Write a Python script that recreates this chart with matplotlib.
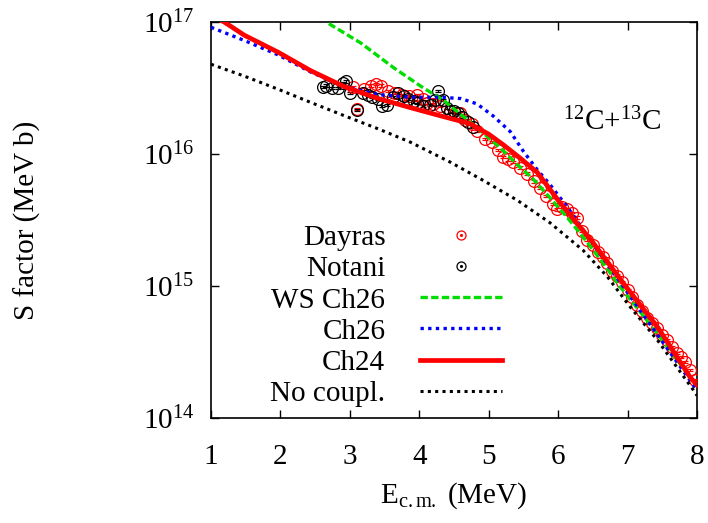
import numpy as np
import matplotlib
matplotlib.use('Agg')
import matplotlib.pyplot as plt
from matplotlib.lines import Line2D
from matplotlib.legend_handler import HandlerTuple
from matplotlib.font_manager import FontProperties

plt.rcParams['font.family'] = 'serif'
plt.rcParams['font.serif'] = ['Liberation Serif', 'DejaVu Serif']
plt.rcParams['mathtext.fontset'] = 'custom'
plt.rcParams['mathtext.rm'] = 'Liberation Serif'
plt.rcParams['mathtext.it'] = 'Liberation Serif:italic'
plt.rcParams['mathtext.bf'] = 'Liberation Serif:bold'
FS = 21
fp = FontProperties(family=['Liberation Serif'], size=FS)

# ---- data (E in MeV, S factor in MeV b) ----
dayras_E = [3.05, 3.10, 3.20, 3.30, 3.38, 3.45, 3.55, 3.65, 3.75, 3.85, 3.97, 4.05,
            4.11, 4.20, 4.30, 4.44, 4.52, 4.59, 4.66, 4.76, 4.83, 4.95, 5.05, 5.14,
            5.21, 5.28, 5.35, 5.45, 5.55, 5.65, 5.74, 5.82, 5.92, 5.99, 6.06, 6.13,
            6.20, 6.27, 6.35, 6.42, 6.50, 6.58, 6.65, 6.71, 6.78, 6.85, 6.92, 7.01,
            7.07, 7.14, 7.21, 7.28, 7.35, 7.43, 7.50, 7.57, 7.64, 7.71, 7.77, 7.83,
            7.90, 7.97]
dayras_S = [3.2e16, 2.2e16, 3.1e16, 3.3e16, 3.4e16, 3.3e16, 3.0e16, 2.9e16, 2.8e16,
            2.75e16, 2.8e16, 2.6e16, 2.45e16, 2.4e16, 2.3e16, 2.1e16, 2.05e16, 2.05e16,
            1.8e16, 1.7e16, 1.5e16, 1.3e16, 1.23e16, 1.07e16, 9.5e15, 9.1e15, 8.7e15,
            7.9e15, 7.1e15, 6.2e15, 5.5e15, 4.8e15, 4.2e15, 3.8e15, 4.0e15, 3.8e15,
            3.55e15, 3.3e15, 2.6e15, 2.25e15, 2.05e15, 1.8e15, 1.65e15, 1.5e15,
            1.3e15, 1.2e15, 1.07e15, 9.3e14, 8.3e14, 7.2e14, 6.5e14, 5.75e14, 5.25e14,
            4.8e14, 4.25e14, 3.9e14, 3.45e14, 3.1e14, 2.9e14, 2.65e14, 2.3e14, 1.95e14]

notani_E = [2.61, 2.66, 2.74, 2.83, 2.90, 2.95, 3.00, 3.10, 3.19, 3.26, 3.32, 3.40,
            3.46, 3.53, 3.62, 3.70, 3.78, 3.84, 3.92, 3.97, 4.05, 4.16, 4.22, 4.27,
            4.34, 4.40, 4.44, 4.50, 4.56, 4.62, 4.70, 4.78]
notani_S = [3.2e16, 3.3e16, 3.15e16, 3.15e16, 3.45e16, 3.55e16, 2.9e16, 2.15e16,
            2.9e16, 2.8e16, 2.7e16, 2.6e16, 2.3e16, 2.35e16, 2.7e16, 2.9e16, 2.75e16,
            2.6e16, 2.5e16, 2.45e16, 2.3e16, 2.35e16, 2.55e16, 3.0e16, 2.55e16,
            2.25e16, 2.1e16, 2.1e16, 2.05e16, 1.9e16, 1.75e16, 1.6e16]
err_frac = 0.02

# calculated curves, log10 of S
ch24_E = [1.0, 1.19, 1.48, 1.97, 2.44, 2.92, 3.41, 3.88, 4.3, 4.73, 5.0, 5.21,
          5.45, 5.70, 6.0, 6.17, 6.5, 6.94, 7.43, 7.9, 8.0]
ch24_logS = [17.05, 17.0, 16.90, 16.77, 16.63, 16.51, 16.42, 16.35, 16.29, 16.23,
             16.15, 16.07, 15.97, 15.86, 15.65, 15.54, 15.33, 15.02, 14.69, 14.31,
             14.25]

wsch26_E = [2.6, 2.69, 3.16, 3.64, 4.06, 4.34, 4.83, 5.16, 5.41, 5.64, 5.88, 6.13,
            6.36, 6.61, 6.9, 7.4, 8.0]
wsch26_logS = [17.05, 16.99, 16.84, 16.65, 16.50, 16.41, 16.20, 16.05, 15.92,
               15.81, 15.67, 15.52, 15.37, 15.20, 14.99, 14.66, 14.24]

ch26_E = [1.0, 1.48, 1.97, 2.44, 2.92, 3.41, 3.88, 4.3, 4.6, 4.83, 5.06, 5.31,
          5.5, 5.7, 5.88, 6.13, 6.5, 7.0, 7.5, 8.0]
ch26_logS = [16.96, 16.86, 16.75, 16.62, 16.51, 16.45, 16.43, 16.43, 16.42, 16.38,
             16.29, 16.17, 16.02, 15.88, 15.77, 15.60, 15.32, 14.95, 14.58, 14.21]

nocoup_E = [1.0, 1.48, 1.97, 2.44, 2.92, 3.41, 3.87, 4.44, 4.92, 5.41, 5.88, 6.36,
            6.71, 7.04, 7.43, 7.95, 8.0]
nocoup_logS = [16.68, 16.59, 16.49, 16.39, 16.29, 16.19, 16.09, 15.94, 15.80, 15.65,
               15.48, 15.27, 15.07, 14.84, 14.59, 14.21, 14.17]

# ---- figure ----
fig = plt.figure(figsize=(7.08, 5.23), dpi=100)
ax = fig.add_axes([211/708, 1-418/523, (697-211)/708, (418-22)/523])

dayras_S = np.array(dayras_S)
notani_S = np.array(notani_S)
ax.errorbar(dayras_E, dayras_S, yerr=err_frac*dayras_S, fmt='o', ms=8.5,
            mfc='none', mec='#ff0000', ecolor='#ff0000', mew=0.9, elinewidth=0.8,
            capsize=2, zorder=3)
ax.errorbar(notani_E, notani_S, yerr=err_frac*notani_S, fmt='o', ms=8.5,
            mfc='none', mec='black', ecolor='black', mew=0.9, elinewidth=0.8,
            capsize=2, zorder=3)
l_ws, = ax.plot(wsch26_E, 10**np.array(wsch26_logS), color='#00dd00', lw=2.4,
                dashes=(2.2, 1.0), zorder=4)
l_26, = ax.plot(ch26_E, 10**np.array(ch26_logS), color='#0000ff', lw=2.4,
                dashes=(1.0, 1.3), zorder=4)
l_24, = ax.plot(ch24_E, 10**np.array(ch24_logS), color='#ff0000', lw=3.4, zorder=5)
l_nc, = ax.plot(nocoup_E, 10**np.array(nocoup_logS), color='black', lw=2.2,
                dashes=(1.0, 1.4), zorder=4)

ax.set_yscale('log')
ax.set_xlim(1, 8)
ax.set_ylim(1e14, 1e17)
ax.set_xticks(range(1, 9))
ax.set_xticklabels([str(i) for i in range(1, 9)], fontproperties=fp)
ax.set_yticks([1e14, 1e15, 1e16, 1e17])
ax.set_yticklabels([r'$10^{14}$', r'$10^{15}$', r'$10^{16}$', r'$10^{17}$'],
                   fontproperties=fp)
ax.yaxis.set_minor_locator(matplotlib.ticker.NullLocator())
ax.tick_params(which='both', direction='in', top=True, right=True,
               length=6, width=1.0)
ax.tick_params(axis='x', pad=19)
ax.tick_params(axis='y', pad=12)
for sp in ax.spines.values():
    sp.set_linewidth(1.2)

fig.text(27/708, 1-220/523, 'S factor (MeV b)', rotation=90,
         ha='center', va='center', fontproperties=fp)
fig.text(454/708, 1-503/523, r'$\mathrm{E_{c.m.}}$ (MeV)', ha='center',
         va='baseline', fontproperties=fp)
fig.text(612/708, 1-130/523, r'$^{12}$C+$^{13}$C', ha='center', va='baseline',
         fontproperties=fp)

# legend: open circle with a dot for the data sets
def data_handle(c):
    circ = Line2D([], [], ls='none', marker='o', ms=6.5, mfc='none', mec=c, mew=0.9)
    dot = Line2D([], [], ls='none', marker='.', ms=2.5, color=c)
    return (circ, dot)

handles = [data_handle('#ff0000'), data_handle('black'), l_ws, l_26, l_24, l_nc]
labels = ['Dayras', 'Notani', 'WS Ch26', 'Ch26', 'Ch24', 'No coupl.']
leg = ax.legend(handles, labels, loc='upper right',
                bbox_to_anchor=(502/708, 1-225/523),
                bbox_transform=fig.transFigure, frameon=False, markerfirst=False,
                handlelength=2.8, handletextpad=1.2, labelspacing=0.16,
                borderpad=0, borderaxespad=0, prop=fp,
                handler_map={tuple: HandlerTuple(ndivide=1)})

fig.savefig('out.png', dpi=100)
